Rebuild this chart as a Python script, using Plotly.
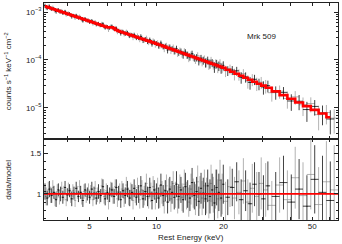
import plotly.graph_objects as go

# ---------------- data ----------------
# FPMA (black) bin centres, keV
energy_kev_a = [
    3.162, 3.236, 3.311, 3.388, 3.467, 3.548, 3.631, 3.715, 3.802, 3.890,
    3.981, 4.074, 4.169, 4.266, 4.365, 4.467, 4.571, 4.677, 4.786, 4.898,
    5.012, 5.129, 5.248, 5.370, 5.495, 5.623, 5.754, 5.888, 6.026, 6.166,
    6.310, 6.457, 6.607, 6.761, 6.918, 7.079, 7.244, 7.413, 7.586, 7.762,
    7.943, 8.128, 8.318, 8.511, 8.710, 8.913, 9.120, 9.333, 9.550, 9.772,
    10.00, 10.23, 10.47, 10.72, 10.96, 11.22, 11.48, 11.75, 12.02, 12.30,
    12.59, 12.88, 13.18, 13.49, 13.80, 14.13, 14.45, 14.79, 15.14, 15.49,
    15.85, 16.22, 16.60, 16.98, 17.38, 17.78, 18.20, 18.62, 19.05, 19.50, 19.95,
    20.89, 21.88, 22.91, 23.99, 25.12, 26.30, 27.54, 28.84, 30.20, 31.62,
    34.28, 37.15, 40.27, 43.65, 47.32, 51.29, 55.59, 60.26,
]
halfwidth_frac_a = [0.0116] * 81 + [0.0233] * 10 + [0.0411] * 8

# FPMB (grey) bin centres, keV
energy_kev_b = [
    3.199, 3.273, 3.350, 3.428, 3.508, 3.589, 3.673, 3.758, 3.846, 3.936,
    4.027, 4.121, 4.217, 4.315, 4.416, 4.519, 4.624, 4.732, 4.842, 4.955,
    5.070, 5.188, 5.309, 5.433, 5.559, 5.689, 5.821, 5.957, 6.095, 6.237,
    6.383, 6.531, 6.683, 6.839, 6.998, 7.161, 7.328, 7.499, 7.674, 7.852,
    8.035, 8.222, 8.414, 8.610, 8.810, 9.016, 9.226, 9.441, 9.661, 9.886,
    10.12, 10.35, 10.59, 10.84, 11.09, 11.35, 11.61, 11.89, 12.16, 12.45,
    12.74, 13.03, 13.34, 13.65, 13.96, 14.29, 14.62, 14.96, 15.31, 15.67,
    16.03, 16.41, 16.79, 17.18, 17.58, 17.99, 18.41, 18.84, 19.28, 19.72,
    20.42, 21.38, 22.39, 23.44, 24.55, 25.70, 26.92, 28.18, 29.51, 30.90,
    32.93, 35.69, 38.68, 41.93, 45.45, 49.26, 53.40, 57.88, 62.73,
]
halfwidth_frac_b = [0.0116] * 80 + [0.0233] * 10 + [0.0411] * 9

# best-fit model, log10(counts s^-1 keV^-1 cm^-2), at the FPMA bins
model_log10_a = [
    -2.880, -2.896, -2.911, -2.927, -2.942, -2.958, -2.974, -2.989, -3.005, -3.020,
    -3.036, -3.052, -3.067, -3.083, -3.098, -3.114, -3.130, -3.145, -3.161, -3.176,
    -3.192, -3.208, -3.223, -3.239, -3.254, -3.270, -3.286, -3.301, -3.317, -3.322,
    -3.318, -3.339, -3.374, -3.395, -3.410, -3.426, -3.442, -3.457, -3.473, -3.488,
    -3.504, -3.520, -3.535, -3.551, -3.566, -3.582, -3.598, -3.613, -3.629, -3.644,
    -3.660, -3.677, -3.693, -3.710, -3.727, -3.744, -3.760, -3.777, -3.794, -3.810,
    -3.827, -3.844, -3.860, -3.877, -3.894, -3.911, -3.927, -3.944, -3.961, -3.977,
    -3.994, -4.011, -4.027, -4.044, -4.061, -4.078, -4.094, -4.111, -4.128, -4.144, -4.161,
    -4.203, -4.244, -4.286, -4.327, -4.369, -4.411, -4.452, -4.494, -4.535, -4.577,
    -4.654, -4.731, -4.808, -4.885, -4.962, -5.039, -5.116, -5.193,
]

# best-fit model at the FPMB bins
model_log10_b = [
    -2.888, -2.903, -2.919, -2.935, -2.950, -2.966, -2.981, -2.997, -3.013, -3.028,
    -3.044, -3.059, -3.075, -3.091, -3.106, -3.122, -3.137, -3.153, -3.169, -3.184,
    -3.200, -3.215, -3.231, -3.247, -3.262, -3.278, -3.293, -3.309, -3.325, -3.320,
    -3.326, -3.361, -3.387, -3.403, -3.418, -3.434, -3.449, -3.465, -3.481, -3.496,
    -3.512, -3.527, -3.543, -3.559, -3.574, -3.590, -3.605, -3.621, -3.637, -3.652,
    -3.668, -3.685, -3.702, -3.718, -3.735, -3.752, -3.769, -3.785, -3.802, -3.819,
    -3.835, -3.852, -3.869, -3.885, -3.902, -3.919, -3.936, -3.952, -3.969, -3.986,
    -4.002, -4.019, -4.036, -4.052, -4.069, -4.086, -4.102, -4.119, -4.136, -4.152,
    -4.182, -4.224, -4.265, -4.307, -4.348, -4.390, -4.432, -4.473, -4.515, -4.556,
    -4.616, -4.693, -4.770, -4.847, -4.924, -5.001, -5.078, -5.155, -5.232,
]

ratio_fpma = [
    1.03, 0.95, 1.06, 0.98, 1.02, 0.93, 1.05, 1.00, 0.96, 1.08,
    0.99, 1.04, 0.94, 1.01, 1.07, 0.97, 1.02, 0.92, 1.05, 1.00,
    0.96, 1.06, 1.01, 0.95, 1.03, 0.98, 1.09, 0.94, 1.02, 0.99,
    1.05, 0.97, 1.08, 1.01, 0.93, 1.04, 0.98, 1.06, 0.95, 1.02,
    1.07, 0.96, 1.00, 1.10, 0.94, 1.03, 0.97, 1.08, 0.92, 1.05,
    1.01, 0.95, 1.11, 0.98, 1.04, 0.90, 1.06, 1.02, 0.96, 1.12,
    0.97, 1.05, 0.93, 1.09, 1.00, 0.95, 1.14, 0.98, 1.03, 0.91,
    1.07, 1.01, 0.94, 1.10, 0.97, 1.05, 0.89, 1.08, 1.02, 0.95, 1.12,
    0.96, 1.08, 1.15, 0.93, 1.04, 0.88, 1.12, 1.00, 0.94, 1.10,
    0.97, 1.14, 0.90, 1.06, 0.85, 1.18, 1.02, 0.92,
]

err_fpma = [
    0.10, 0.09, 0.10, 0.09, 0.08, 0.09, 0.08, 0.09, 0.08, 0.08,
    0.08, 0.08, 0.09, 0.08, 0.08, 0.07, 0.08, 0.08, 0.08, 0.08,
    0.08, 0.09, 0.08, 0.08, 0.09, 0.08, 0.09, 0.08, 0.09, 0.09,
    0.09, 0.09, 0.10, 0.09, 0.10, 0.09, 0.10, 0.10, 0.10, 0.10,
    0.11, 0.10, 0.11, 0.12, 0.11, 0.11, 0.12, 0.12, 0.11, 0.12,
    0.12, 0.13, 0.14, 0.13, 0.13, 0.14, 0.15, 0.14, 0.15, 0.16,
    0.15, 0.16, 0.16, 0.17, 0.17, 0.16, 0.18, 0.17, 0.18, 0.18,
    0.19, 0.19, 0.20, 0.20, 0.21, 0.20, 0.22, 0.22, 0.23, 0.23, 0.24,
    0.22, 0.23, 0.24, 0.25, 0.25, 0.26, 0.27, 0.27, 0.29, 0.30,
    0.30, 0.33, 0.34, 0.37, 0.38, 0.42, 0.45, 0.48,
]

ratio_fpmb = [
    0.97, 1.05, 0.99, 1.08, 0.94, 1.03, 0.96, 1.07, 1.01, 0.93,
    1.06, 0.98, 1.04, 0.92, 1.02, 1.09, 0.95, 1.03, 0.97, 1.05,
    1.02, 0.93, 1.07, 0.99, 0.96, 1.10, 0.97, 1.04, 0.91, 1.06,
    0.98, 1.09, 0.94, 1.03, 1.06, 0.95, 1.11, 0.97, 1.04, 0.92,
    1.00, 1.08, 0.93, 1.05, 0.98, 1.13, 0.95, 1.02, 1.09, 0.94,
    1.07, 0.97, 1.02, 0.91, 1.10, 1.04, 0.94, 1.13, 0.99, 0.93,
    1.08, 0.96, 1.12, 0.98, 0.90, 1.06, 1.01, 0.93, 1.15, 1.02,
    0.95, 1.10, 0.98, 0.92, 1.13, 0.99, 1.06, 0.94, 1.17, 1.00,
    0.91, 1.09, 0.95, 1.02, 1.16, 0.90, 1.07, 0.97, 1.13, 1.05,
    0.86, 1.11, 0.93, 1.20, 0.98, 1.24, 0.87, 1.15, 1.05,
]

err_fpmb = [
    0.11, 0.10, 0.10, 0.09, 0.09, 0.09, 0.09, 0.08, 0.09, 0.08,
    0.08, 0.09, 0.08, 0.08, 0.08, 0.08, 0.08, 0.09, 0.08, 0.08,
    0.09, 0.08, 0.09, 0.09, 0.08, 0.09, 0.09, 0.09, 0.10, 0.09,
    0.10, 0.09, 0.10, 0.10, 0.10, 0.11, 0.10, 0.11, 0.10, 0.11,
    0.11, 0.12, 0.11, 0.12, 0.12, 0.12, 0.13, 0.12, 0.13, 0.13,
    0.13, 0.14, 0.14, 0.15, 0.14, 0.15, 0.16, 0.15, 0.16, 0.17,
    0.16, 0.17, 0.18, 0.17, 0.18, 0.19, 0.18, 0.19, 0.20, 0.20,
    0.21, 0.20, 0.22, 0.22, 0.23, 0.22, 0.24, 0.24, 0.25, 0.25,
    0.24, 0.25, 0.26, 0.27, 0.28, 0.28, 0.30, 0.30, 0.32, 0.33,
    0.30, 0.34, 0.36, 0.38, 0.41, 0.43, 0.46, 0.50, 0.55,
]

x_major_ticks = [5, 10, 20, 50]
x_minor_ticks = [4, 6, 7, 8, 9, 30, 40, 60]
y_top_ticks = [1e-5, 1e-4, 1e-3]
y_top_labels = ["10<sup>−5</sup>", "10<sup>−4</sup>", "10<sup>−3</sup>"]
y_top_minor = [k * 10.0 ** d for d in (-6, -5, -4, -3) for k in range(2, 10)]
y_bot_ticks = [1, 1.5]
y_bot_labels = ["1", "1.5"]
source_label = "Mrk 509"

# ---------------- derived (data = model x ratio) ----------------
model_a = [10 ** v for v in model_log10_a]
model_b = [10 ** v for v in model_log10_b]
xerr_a = [e * f for e, f in zip(energy_kev_a, halfwidth_frac_a)]
xerr_b = [e * f for e, f in zip(energy_kev_b, halfwidth_frac_b)]
flux_a = [m * r for m, r in zip(model_a, ratio_fpma)]
flux_a_err = [m * s for m, s in zip(model_a, err_fpma)]
flux_b = [m * r for m, r in zip(model_b, ratio_fpmb)]
flux_b_err = [m * s for m, s in zip(model_b, err_fpmb)]

GREY = "#a0a0a0"
BLACK = "#111111"
RED = "#ff0000"
FONT = "Liberation Sans, Arial, sans-serif"
INK = "#222222"


def err_trace(x, y, ex, ey, color, xa, ya, w):
    return go.Scatter(
        x=x, y=y, mode="markers",
        marker=dict(size=1, color=color),
        error_y=dict(type="data", array=ey, visible=True, color=color, thickness=w, width=0),
        error_x=dict(type="data", array=ex, visible=True, color=color, thickness=w, width=0),
        xaxis=xa, yaxis=ya, showlegend=False, hoverinfo="skip",
    )


fig = go.Figure()
fig.add_trace(err_trace(energy_kev_b, flux_b, xerr_b, flux_b_err, GREY, "x", "y", 0.8))
fig.add_trace(err_trace(energy_kev_a, flux_a, xerr_a, flux_a_err, BLACK, "x", "y", 0.8))
fig.add_trace(go.Scatter(x=energy_kev_a, y=model_a, mode="lines",
                         line=dict(color=RED, width=2.6, shape="hvh"),
                         xaxis="x", yaxis="y", showlegend=False, hoverinfo="skip"))

fig.add_trace(err_trace(energy_kev_b, ratio_fpmb, xerr_b, err_fpmb, GREY, "x2", "y2", 0.8))
fig.add_trace(err_trace(energy_kev_a, ratio_fpma, xerr_a, err_fpma, BLACK, "x2", "y2", 0.8))
fig.add_trace(go.Scatter(x=[3.0, 70.0], y=[1.0, 1.0], mode="lines", line=dict(color=RED, width=1.8),
                         xaxis="x2", yaxis="y2", showlegend=False, hoverinfo="skip"))

split = 0.3733

axis_common = dict(showline=True, linecolor=INK, linewidth=1.2, mirror="ticks", ticks="inside",
                   tickcolor=INK, tickwidth=1, showgrid=False, zeroline=False,
                   tickfont=dict(family=FONT, size=8, color=INK))
x_minor = dict(ticks="inside", ticklen=3, tickcolor=INK, tickvals=x_minor_ticks, showgrid=False)

fig.update_layout(
    width=342, height=244,
    margin=dict(l=44, r=4, t=3, b=24),
    paper_bgcolor="white", plot_bgcolor="white",
    font=dict(family=FONT, size=8, color=INK),
    xaxis=dict(domain=[0, 1], anchor="y", type="log", range=[0.4955, 1.8145],
               tickvals=x_major_ticks, showticklabels=False, ticklen=3, minor=x_minor, **axis_common),
    xaxis2=dict(domain=[0, 1], anchor="y2", type="log", range=[0.4955, 1.8145], matches="x",
                tickvals=x_major_ticks, ticktext=[str(v) for v in x_major_ticks], ticklen=3,
                ticklabelstandoff=-2, minor=x_minor, **axis_common),
    yaxis=dict(domain=[split, 1], anchor="x", type="log", range=[-5.646, -2.8125],
               tickvals=y_top_ticks, ticktext=y_top_labels, ticklen=4,
               minor=dict(ticks="inside", ticklen=2, tickcolor=INK, tickvals=y_top_minor, showgrid=False),
               **axis_common),
    yaxis2=dict(domain=[0, split], anchor="x2", range=[0.68, 1.676],
                tickvals=y_bot_ticks, ticktext=y_bot_labels, ticklen=4,
                minor=dict(ticks="inside", ticklen=2, tickcolor=INK, dtick=0.1, tick0=0, showgrid=False),
                **axis_common),
    annotations=[
        dict(text="counts s<sup>−1</sup> keV<sup>−1</sup> cm<sup>−2</sup>", xref="paper", yref="paper",
             x=-0.122, y=(split + 1) / 2, textangle=-90, showarrow=False,
             font=dict(family=FONT, size=8, color=INK), xanchor="center", yanchor="middle"),
        dict(text="data/model", xref="paper", yref="paper",
             x=-0.122, y=split / 2, textangle=-90, showarrow=False,
             font=dict(family=FONT, size=8, color=INK), xanchor="center", yanchor="middle"),
        dict(text="Rest Energy (keV)", xref="paper", yref="paper",
             x=0.5, y=-0.079, showarrow=False,
             font=dict(family=FONT, size=8, color=INK), xanchor="center", yanchor="middle"),
        dict(text=source_label, x=1.473, y=-3.52, xref="x", yref="y", showarrow=False,
             font=dict(family=FONT, size=8, color=INK), xanchor="center", yanchor="middle"),
    ],
)

fig.write_html("out.html", config={"displayModeBar": False},
               post_script="document.body.style.margin='0';")
